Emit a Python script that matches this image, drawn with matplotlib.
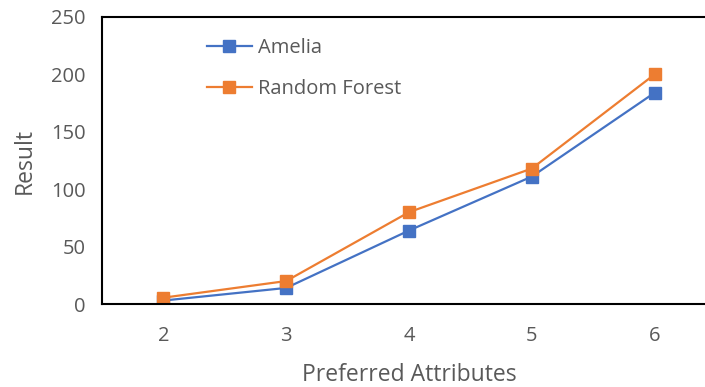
import matplotlib
matplotlib.use('Agg')
import matplotlib.pyplot as plt

attributes = [2, 3, 4, 5, 6]
amelia = [3, 14, 64, 111, 184]
random_forest = [5.5, 20, 80, 118, 200]
y_ticks = [0, 50, 100, 150, 200, 250]

plt.rcParams['font.family'] = ['Open Sans', 'DejaVu Sans']
gray = '#595959'

fig = plt.figure(figsize=(7.05, 3.87), dpi=100)
ax = fig.add_axes([102/705, 1 - 304/387, (716 - 102)/705, (304 - 17)/387])

ax.plot(attributes, amelia, color='#4472C4', marker='s', markersize=8, lw=1.6, label='Amelia')
ax.plot(attributes, random_forest, color='#ED7D31', marker='s', markersize=8, lw=1.6, label='Random Forest')

ax.set_xlim(1.5, 6.5)
ax.set_ylim(0, 250)
ax.set_xticks(attributes)
ax.set_yticks(y_ticks)
ax.tick_params(length=0, labelsize=14.5, labelcolor=gray, pad=12)
ax.tick_params(axis='x', pad=16)
ax.spines['right'].set_visible(False)
for s in ['left', 'top', 'bottom']:
    ax.spines[s].set_linewidth(1.5)
    ax.spines[s].set_color('black')

ax.set_xlabel('Preferred Attributes', fontsize=16.5, color=gray, labelpad=12)
ax.set_ylabel('Result', fontsize=16.5, color=gray, labelpad=10)

ax.legend(loc='upper left', bbox_to_anchor=(0.142, 0.99), frameon=False,
          fontsize=14.5, labelcolor=gray, handlelength=2.2, handletextpad=0.3,
          labelspacing=1.05)

fig.savefig('out.png', dpi=100)
